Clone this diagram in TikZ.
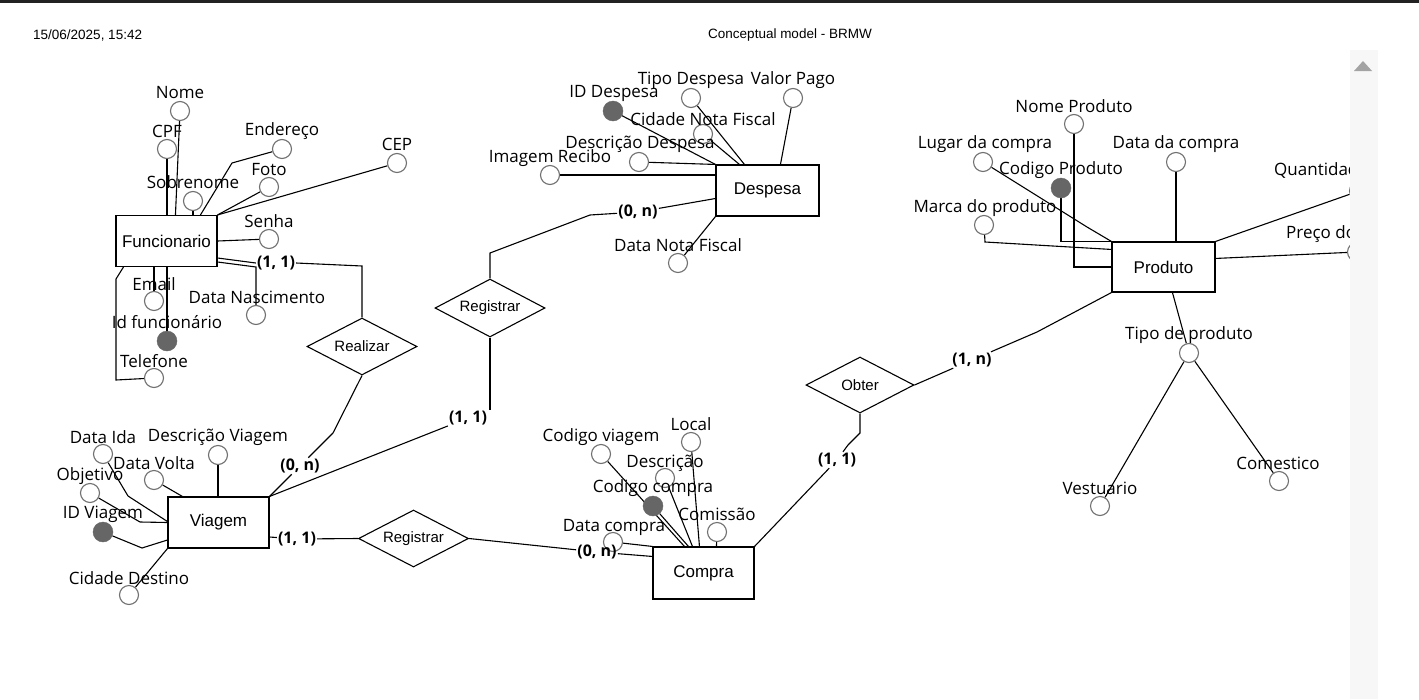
\documentclass[tikz,border=0pt]{standalone}
\usepackage{fontspec}
\usetikzlibrary{shapes.geometric,calc}
\newfontfamily\attrfont{Open Sans}
\newfontfamily\arialf{Liberation Sans}
\definecolor{attrgray}{HTML}{707070}
\definecolor{keygray}{HTML}{666666}
\definecolor{scrollgray}{HTML}{F7F7F7}
\definecolor{arrowgray}{HTML}{A3A3A3}
\definecolor{topbar}{HTML}{222222}
\pgfdeclarelayer{back}
\pgfdeclarelayer{bg}
\pgfsetlayers{back,bg,main}
\begin{document}
\begin{tikzpicture}[x=1pt,y=-1pt,
  conn/.style={line width=1.1pt, draw=black},
  ent/.style={draw, line width=1.1pt, fill=white, rectangle, minimum width=101pt, minimum height=51pt, inner sep=0pt, font=\arialf\fontsize{17}{20}\selectfont},
  rel/.style={draw, line width=1.1pt, fill=white, diamond, aspect=1.9, inner sep=1pt, minimum width=110pt, minimum height=57pt, font=\arialf\fontsize{15}{18}\selectfont},
  attr/.style={circle, draw=attrgray, line width=1.1pt, fill=white, minimum size=19pt, inner sep=0pt},
  keyattr/.style={circle, draw=keygray, fill=keygray, minimum size=20pt, inner sep=0pt},
  albl/.style={font=\attrfont\fontsize{17}{20}\selectfont, inner sep=0pt},
  card/.style={font=\attrfont\bfseries\fontsize{16}{19}\selectfont, inner sep=1pt},
  hdr/.style={font=\arialf\fontsize{13.5}{16}\selectfont, inner sep=0pt},
]
\useasboundingbox (0,0) rectangle (1419,699);
\begin{pgfonlayer}{back}
\fill[white] (0,0) rectangle (1419,699);
\end{pgfonlayer}
\fill[topbar] (0,0) rectangle (1419,2.5);
\node[hdr, anchor=west] (hdate) at (33,35) {15/06/2025, 15:42};
\node[hdr] (htitle) at (790,35) {Conceptual model - BRMW};

% entities
\node[ent] (fun) at (166.5,241) {Funcionario};
\node[ent, minimum width=103pt] (des) at (767.5,190.5) {Despesa};
\node[ent, minimum width=103pt, minimum height=50pt] (prod) at (1163.5,267) {Produto};
\node[ent] (via) at (218.5,522.5) {Viagem};
\node[ent, minimum height=52pt] (comp) at (703.5,573) {Compra};

% relationships
\node[rel] (real) at (362,346.5) {Realizar};
\node[rel, minimum height=58pt] (reg1) at (490,308) {Registrar};
\node[rel] (reg2) at (413.5,538.5) {Registrar};
\node[rel, minimum width=108pt, minimum height=56pt] (obt) at (860,385) {Obter};

% Funcionario attributes
\node[attr] (nome) at (180,111) {};
\node[attr] (cpf) at (167,149) {};
\node[attr] (sob) at (193,201) {};
\node[attr] (ender) at (282,149) {};
\node[attr] (foto) at (269,187) {};
\node[attr] (cep) at (397,163) {};
\node[attr] (senha) at (269,239) {};
\node[attr] (dnasc) at (256,315) {};
\node[attr] (email) at (154,301) {};
\node[keyattr] (idf) at (167,341) {};
\node[attr] (tel) at (154,378) {};

% Despesa attributes
\node[keyattr] (idd) at (613,111) {};
\node[attr] (tipod) at (691,98) {};
\node[attr] (valor) at (793,98) {};
\node[attr] (cidnf) at (703,134) {};
\node[attr] (descd) at (639,162) {};
\node[attr] (img) at (550,175) {};
\node[attr] (dnf) at (678,263) {};

% Produto attributes
\node[attr] (nomep) at (1074,124) {};
\node[attr] (lugar) at (983,162) {};
\node[keyattr] (codp) at (1061,188) {};
\node[attr] (datac) at (1176,162) {};
\node[attr] (marca) at (984,225) {};
\node[attr] (quant) at (1359,191) {};
\node[attr] (preco) at (1357,252) {};
\node[attr] (tipop) at (1189,353) {};
\node[attr] (vest) at (1100,506) {};
\node[attr] (comest) at (1279,481) {};

% Viagem attributes
\node[attr] (dida) at (103,454) {};
\node[attr] (descv) at (218,455) {};
\node[attr] (dvolta) at (154,480) {};
\node[attr] (obj) at (90,493) {};
\node[keyattr] (idv) at (103,532) {};
\node[attr] (cidd) at (129,595) {};

% Compra attributes
\node[attr] (local) at (691,442) {};
\node[attr] (codv) at (601,454) {};
\node[attr] (descc) at (665,478) {};
\node[keyattr] (codc) at (653,506) {};
\node[attr] (comis) at (717,532) {};
\node[attr] (datacp) at (613,542) {};

% cardinalities
\node[card] (c1) at (276,263) {(1, 1)};
\node[card] (c2) at (300,466) {(0, n)};
\node[card] (c3) at (638,212) {(0, n)};
\node[card] (c4) at (468,418) {(1, 1)};
\node[card] (c5) at (297,539) {(1, 1)};
\node[card] (c6) at (597,552) {(0, n)};
\node[card] (c7) at (837,460) {(1, 1)};
\node[card] (c8) at (972,360) {(1, n)};

\begin{pgfonlayer}{bg}
% Funcionario
\draw[conn] (nome) -- ([xshift=60pt]fun.north west);
\draw[conn] (cpf) -- (cpf |- fun.north);
\draw[conn] (sob) -- (sob |- fun.north);
\draw[conn] (ender) -- (232,163) -- ([xshift=85pt]fun.north west);
\draw[conn] (foto) -- (fun.north east);
\draw[conn] (cep) -- (fun.north east);
\draw[conn] (senha) -- (fun.east);
\draw[conn] (dnasc) -- (256,267) -- ([yshift=-21pt]fun.east);
\draw[conn] ([yshift=-17pt]fun.east) -- (c1.west);
\draw[conn] (c1.east) -- (362,266) -- (real.north);
\draw[conn] (email) -- (email |- fun.south);
\draw[conn] (idf) -- (idf |- fun.south);
\draw[conn] (tel) -- (116,380) -- (116,279) -- ([xshift=8pt]fun.south west);
% Realizar
\draw[conn] (real.south) -- (333,433) -- (c2);
\draw[conn] (c2) -- (via.north east);
% Registrar 1
\draw[conn] (reg1.north) -- (490,253) -- (590,215) -- (c3);
\draw[conn] (c3) -- ([yshift=-8pt]des.west);
\draw[conn] (reg1.south) -- (c4.north -| reg1.south);
\draw[conn] (c4) -- (via.north east);
% Registrar 2
\draw[conn] ([yshift=-14.5pt]via.east) -- (c5);
\draw[conn] (c5) -- (reg2.west);
\draw[conn] (reg2.east) -- (c6);
\draw[conn] (c6) -- ([yshift=-10pt]comp.north west);
% Obter
\draw[conn] (obt.east) -- (c8);
\draw[conn] (c8) -- (1037,332) -- (prod.south west);
\draw[conn] (obt.south) -- (860,433) -- (848,445) -- (c7);
\draw[conn] (c7) -- (comp.north east);
% Despesa
\draw[conn] (idd) -- (des.north west);
\draw[conn] (tipod) -- ([xshift=29pt]des.north west);
\draw[conn] (valor) -- ([xshift=65pt]des.north west);
\draw[conn] (cidnf) -- ([xshift=24pt]des.north west);
\draw[conn] (descd) -- (des.north west);
\draw[conn] (img) -- (img -| des.west);
\draw[conn] (dnf) -- (des.south west);
% Produto
\draw[conn] (nomep) -- (nomep |- prod.west) -- (prod.west);
\draw[conn] (lugar) -- (1087,227) -- (prod.north west);
\draw[conn] (codp) -- (codp |- prod.north west) -- (prod.north west);
\draw[conn] (datac) -- (datac |- prod.north);
\draw[conn] (marca) -- (985,242) -- ([yshift=-8pt]prod.north west);
\draw[conn] (quant) -- (prod.north east);
\draw[conn] (preco) -- ([yshift=-17pt]prod.north east);
\draw[conn] (tipop) -- ([xshift=61pt]prod.south west);
\draw[conn] (tipop) -- (vest);
\draw[conn] (tipop) -- (comest);
% Viagem
\draw[conn] (dida) -- (128,496) -- ([yshift=1pt]via.west);
\draw[conn] (obj) -- (140,522) -- (via.west);
\draw[conn] (dvolta) -- ([xshift=15pt]via.north west);
\draw[conn] (descv) -- (descv |- via.north);
\draw[conn] (idv) -- (142,548) -- ([yshift=-17.5pt]via.west);
\draw[conn] (cidd) -- (via.south west);
% Compra
\draw[conn] (codv) -- ([xshift=32pt]comp.north west);
\draw[conn] (local) -- ([xshift=47pt]comp.north west);
\draw[conn] (descc) -- ([xshift=40pt]comp.north west);
\draw[conn] (codc) -- ([xshift=36pt]comp.north west);
\draw[conn] (comis) -- ([xshift=64pt]comp.north west);
\draw[conn] (datacp) -- (comp.north west);
\end{pgfonlayer}

% attribute labels
\node[albl] (lnome) at (180,93) {Nome};
\node[albl] (lcpf) at (167,131) {CPF};
\node[albl] (lender) at (282,131) {Endereço};
\node[albl] (lfoto) at (269,170) {Foto};
\node[albl] (lsob) at (193,182) {Sobrenome};
\node[albl] (lcep) at (397,144) {CEP};
\node[albl] (lsenha) at (269,221) {Senha};
\node[albl] (lemail) at (154,284) {Email};
\node[albl] (ldnasc) at (257,297) {Data Nascimento};
\node[albl] (lidf) at (167,322) {Id funcionário};
\node[albl] (ltel) at (154,361) {Telefone};

\node[albl] (lidd) at (614,93) {ID Despesa};
\node[albl] (ltipod) at (691,80) {Tipo Despesa};
\node[albl] (lvalor) at (793,80) {Valor Pago};
\node[albl] (lcidnf) at (703,119) {Cidade Nota Fiscal};
\node[albl] (ldescd) at (640,144) {Descrição Despesa};
\node[albl] (limg) at (550,158) {Imagem Recibo};
\node[albl] (ldnf) at (678,245) {Data Nota Fiscal};

\node[albl] (lnomep) at (1074,106) {Nome Produto};
\node[albl] (llugar) at (985,144) {Lugar da compra};
\node[albl] (ldatac) at (1176,144) {Data da compra};
\node[albl] (lcodp) at (1061,170) {Codigo Produto};
\node[albl] (lmarca) at (985,208) {Marca do produto};
\node[albl, anchor=west] (lquant) at (1274,170) {Quantidade};
\node[albl, anchor=west] (lpreco) at (1286,234) {Preço do produto};
\node[albl] (ltipop) at (1189,335) {Tipo de produto};
\node[albl] (lvest) at (1100,488) {Vestuario};
\node[albl] (lcomest) at (1278,463) {Comestico};

\node[albl] (ldida) at (103,437) {Data Ida};
\node[albl] (ldescv) at (218,437) {Descrição Viagem};
\node[albl] (ldvolta) at (154,463) {Data Volta};
\node[albl] (lobj) at (90,476) {Objetivo};
\node[albl] (lidv) at (103,514) {ID Viagem};
\node[albl] (lcidd) at (129,578) {Cidade Destino};

\node[albl] (llocal) at (691,424) {Local};
\node[albl] (lcodv) at (601,437) {Codigo viagem};
\node[albl] (ldescc) at (665,463) {Descrição};
\node[albl] (lcodc) at (653,488) {Codigo compra};
\node[albl] (lcomis) at (717,514) {Comissão};
\node[albl] (ldatacp) at (614,527) {Data compra};

% right margin and scrollbar
\fill[white] (1350,45) rectangle (1419,699);
\fill[scrollgray] (1350,50) rectangle (1378,699);
\fill[arrowgray] (1354,71) -- (1363,61) -- (1372,71) -- cycle;
\end{tikzpicture}
\end{document}
